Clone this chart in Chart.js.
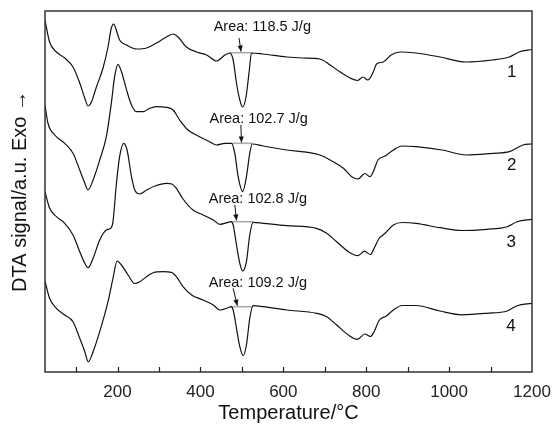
<!DOCTYPE html>
<html>
<head>
<meta charset="utf-8">
<script src="https://cdn.jsdelivr.net/npm/chart.js@4.4.1/dist/chart.umd.min.js"></script>
<style>
html,body{margin:0;padding:0;background:#fff;}
#wrap{width:552px;height:426px;}
</style>
</head>
<body>
<div id="wrap"><canvas id="c" width="552" height="426"></canvas></div>
<script>
// Temperatures (°C) and DTA signal (a.u.)
const t1 = [25,36,52.5,72.6,92.6,108.8,120.9,128.8,137,149,165,177,185,191,197,205,222,246,270,294,318,334,346,366,391,415,439,459,471,479,487,495,502,510,518,523,551,608,647,688,713,737,761,779,792,804,817,825,841,860,882,920,978,1041,1104,1145,1169,1200];
const s1 = [352,330,320,314,305,289,274,266,270,285,304,325,344,348,342,332,327,323,324,329,335,338,335,325,320,317,311,317,319,312,289,272,265,275,302,319,318,315,314,313,307,300,294,291.5,295,292,300,308,310,317,320,319,315,310,312,315,320,322.5];

const t2 = [25,32,48.4,72.6,92.6,108.8,120.9,128.8,141,157,173,185,193,201,209.5,223,233.7,245.7,261.7,277.8,294,318,334,350,370,398,422,439,459,475,483,491,502,511,519,525,551.5,608,664,688,720.5,745,765,780,797,809,817,828.5,845.5,865.5,886,920,983,1042,1106,1145.6,1178,1200];
const s2 = [267,249,237,228.7,218.7,202,189,182,192,212,235.3,268.7,295.3,307.7,300.3,280.3,267,260.3,260.3,263.7,265.3,264.7,262,252,242,235.3,230.3,227,228.7,228.7,218.7,195.3,180.3,195.3,218.7,228,226,222,219.3,217,210.3,203.7,195.3,193,198.5,195.3,200.3,212,216,222,226,225.3,222,217,218.7,220.3,227,228];

const t3 = [25,36,52.5,72.6,92.6,108.8,121,129,141,157,173,185,189,197,205,215,223,233.7,241.6,253.7,270,290,318,331,342,358,382,406.6,431,447,467,473.5,479,487,495,502,511,519,527,551.5,608,680,704.6,728.7,757,780,796,810,819,831,845.5,865.5,886.5,920,978,1031,1091,1140,1164,1200];
const s3 = [180.3,164,155.3,148.7,137,120.3,108.7,104.3,113.7,132,142,144.3,150.3,187,215.3,228.7,222,195.3,182,178,182,186,188.7,188,183.7,173,162,157,152,147.7,149.7,150.3,147,127,108.7,101,110.3,137,149.7,148.7,146.3,143.7,138.7,130.3,120.3,116.3,120.8,117.5,123.7,133.5,138.7,147,149.5,148.7,144.3,141.5,142.7,145.3,150.3,152.7];

const t4 = [25,36,52.5,72.6,92.6,108.8,121,129.3,141,157,177,189,199,209.5,225.5,241.6,253.7,270,286,310,330,342,358,378.6,406.6,431,447,467,473.5,479,487,495,503,511,519,527,551.5,608,680,704.6,728.7,757,779,797,810,819,831,849.5,865.5,886.5,920,978,1031,1091,1140,1164,1200];
const s4 = [91,73.7,63.7,57,50.3,33.7,20.3,10.2,20.3,40.3,70.3,93.7,111,107,97,88.5,90.3,95.3,99.3,100.3,99.7,95.3,85.3,77,72,67,62,64.3,65.3,62,43.7,25.3,16.3,27,53.7,66.3,65.3,62,58.7,55.3,47,37,32.7,38,35.5,40.3,51.5,56.3,62,66.5,66.5,61,57.2,58.7,61,66.3,68.7];

const seriesNames = ['1','2','3','4'];
const areaLabels = ['Area: 118.5 J/g','Area: 102.7 J/g','Area: 102.8 J/g','Area: 109.2 J/g'];
const xTicks = [200,400,600,800,1000,1200];
const xTitle = 'Temperature/°C';
const yTitle = 'DTA signal/a.u. Exo →';

// integration baselines [Tstart, Tend, level]
const baseStart = [471,475,473.5,473.5];
const baseEnd   = [523,525,527,527];
const baseLevel = [319.3,228.7,150.3,65.3];

// annotation placement (data coords)
const annText  = [[432,345],[422,252.7],[420,173],[420,89.3]];
const annArrow = [[[493,334],[498,320.5]],[[497.6,247],[499,229.5]],[[483,167],[487,151.5]],[[479,83.7],[489,66.3]]];
const nameAt   = [[1151,300],[1151,207],[1150,129.7],[1149,45.3]];

const FONT = '"Liberation Sans", Arial, Helvetica, sans-serif';

function pts(t,s){return t.map((v,i)=>({x:v,y:s[i]}));}
const curves = [[t1,s1],[t2,s2],[t3,s3],[t4,s4]];
const datasets = [];
curves.forEach((c,i)=>{
  datasets.push({label:seriesNames[i],data:pts(c[0],c[1]),borderColor:'#111',borderWidth:1.2,pointRadius:0,cubicInterpolationMode:'monotone',fill:false,order:1});
});
for(let i=0;i<4;i++){
  datasets.push({label:'base'+i,data:[{x:baseStart[i],y:baseLevel[i]},{x:baseEnd[i],y:baseLevel[i]}],borderColor:'#aaa',borderWidth:1.6,pointRadius:0,fill:false,order:2});
}

const deco = {
  id:'deco',
  afterDraw(chart){
    const ctx=chart.ctx, a=chart.chartArea, xs=chart.scales.x, ys=chart.scales.y;
    ctx.save();
    // frame
    ctx.strokeStyle='#333';ctx.lineWidth=1.5;
    ctx.strokeRect(a.left,a.top,a.right-a.left,a.bottom-a.top);
    // inner ticks
    ctx.lineWidth=1.2;ctx.strokeStyle='#222';
    for(let v=100;v<1200;v+=100){
      const px=Math.round(xs.getPixelForValue(v))+0.5;
      ctx.beginPath();ctx.moveTo(px,a.bottom);ctx.lineTo(px,a.bottom-5);ctx.stroke();
    }
    // annotations
    ctx.fillStyle='#111';ctx.font='14.5px '+FONT;ctx.textBaseline='middle';ctx.textAlign='left';
    for(let i=0;i<4;i++){
      ctx.fillText(areaLabels[i],xs.getPixelForValue(annText[i][0]),ys.getPixelForValue(annText[i][1]));
      const x0=xs.getPixelForValue(annArrow[i][0][0]),y0=ys.getPixelForValue(annArrow[i][0][1]);
      const x1=xs.getPixelForValue(annArrow[i][1][0]),y1=ys.getPixelForValue(annArrow[i][1][1]);
      ctx.strokeStyle='#111';ctx.lineWidth=1;
      ctx.beginPath();ctx.moveTo(x0,y0);ctx.lineTo(x1,y1);ctx.stroke();
      const ang=Math.atan2(y1-y0,x1-x0),L=6,W=2.6;
      ctx.beginPath();
      ctx.moveTo(x1,y1);
      ctx.lineTo(x1-L*Math.cos(ang)+W*Math.sin(ang),y1-L*Math.sin(ang)-W*Math.cos(ang));
      ctx.lineTo(x1-L*Math.cos(ang)-W*Math.sin(ang),y1-L*Math.sin(ang)+W*Math.cos(ang));
      ctx.closePath();ctx.fill();
    }
    // series numbers
    ctx.font='17px '+FONT;ctx.textAlign='center';
    for(let i=0;i<4;i++){
      ctx.fillText(seriesNames[i],xs.getPixelForValue(nameAt[i][0]),ys.getPixelForValue(nameAt[i][1]));
    }
    // axis titles
    ctx.font='20px '+FONT;ctx.fillStyle='#111';
    ctx.fillText(xTitle,(a.left+a.right)/2,413);
    ctx.translate(20,(a.top+a.bottom)/2);ctx.rotate(-Math.PI/2);
    ctx.font='20px '+FONT;
    ctx.fillText(yTitle,0,0);
    ctx.restore();
  }
};

new Chart(document.getElementById('c'),{
  type:'line',
  data:{datasets},
  options:{
    responsive:false,animation:false,
    layout:{padding:{left:45,right:20,top:11,bottom:0}},
    plugins:{legend:{display:false},tooltip:{enabled:false}},
    scales:{
      x:{type:'linear',min:25,max:1200,
        afterFit(s){s.height=54;s.paddingLeft=0;s.paddingRight=0;},
        afterBuildTicks(s){s.ticks=xTicks.map(v=>({value:v}));},
        grid:{display:false,drawTicks:false},border:{display:false},
        ticks:{autoSkip:false,maxRotation:0,padding:10,color:'#222',font:{family:FONT,size:17},
          callback:(v)=>String(v)}},
      y:{type:'linear',min:0,max:361,display:false}
    }
  },
  plugins:[deco]
});
</script>
</body>
</html>
